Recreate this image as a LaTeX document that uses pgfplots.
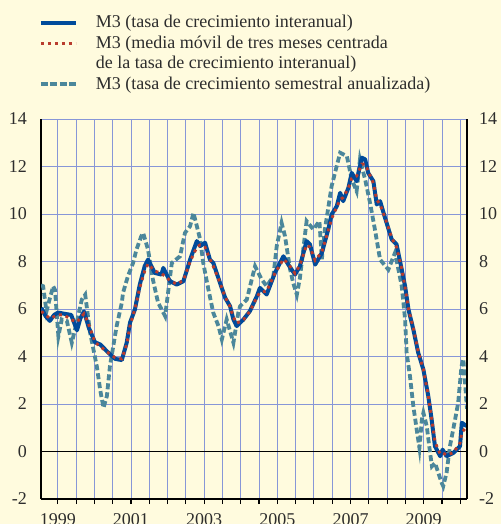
\documentclass[border=0pt]{standalone}
\usepackage{pgfplots}
\pgfplotsset{compat=1.18}
\usepackage{fontspec}
\setmainfont{Liberation Serif}
\definecolor{bg}{RGB}{255,251,222}
\definecolor{m3blue}{RGB}{0,75,155}
\definecolor{m3red}{RGB}{185,60,45}
\definecolor{m3teal}{RGB}{75,135,155}
\definecolor{gridc}{RGB}{135,150,215}
\definecolor{txt}{RGB}{45,45,45}
\tikzset{reddots/.style={m3red, line width=2.9bp, line cap=butt, dash pattern=on 2.9bp off 4.1bp}}
\begin{document}
\begin{tikzpicture}
\fill[bg] (-41bp,-25bp) rectangle (460bp,499bp);
\begin{axis}[
  at={(0,0)}, anchor=south west,
  scale only axis, width=426bp, height=380bp,
  xmin=0.5, xmax=140.2, ymin=-2, ymax=14,
  axis x line*=bottom, axis y line*=left,
  axis line style={black, line width=1.1bp},
  xtick={6,12,...,138},
  xticklabels={1999,,,,2001,,,,2003,,,,2005,,,,2007,,,,2009,,},
  ytick={-2,0,...,14},
  yticklabels={-2,0,2,4,6,8,10,12,14},
  grid=major, major grid style={gridc, line width=0.9bp},
  tick align=outside, major tick length=5bp,
  xtick style={black, line width=1.1bp},
  ytick style={draw=none},
  tick label style={font=\fontsize{18bp}{20bp}\selectfont, text=txt},
  yticklabel style={anchor=east, inner sep=0pt, xshift=-9bp},
  xticklabel style={anchor=north, inner sep=0pt, yshift=-9bp},
  extra y ticks={0}, extra y tick labels={},
  extra y tick style={major grid style={black, line width=1bp}, ytick style={draw=none}},
  legend image code/.code={\draw[#1] (0bp,1bp) -- (35bp,1bp);},
  legend cell align=left,
  legend style={at={(axis description cs:-0.0047,1.274)}, anchor=north west,
    draw=none, fill=none, inner sep=0pt, outer sep=0pt, row sep=2.5bp, column sep=0pt,
    font=\fontsize{18bp}{20bp}\selectfont, text=txt,
    nodes={inner sep=0pt, text height=13bp, text depth=5bp},
    /tikz/every odd column/.append style={column sep=18bp}},
]
\addplot[m3teal, line width=3.8bp, dash pattern=on 6bp off 3bp, forget plot] table {
0.5 7.0
1.2 6.96
2.3 5.9
3.1 6.3
4.5 6.96
5.1 6.8
6.2 4.85
7.3 5.56
9.0 5.49
10.6 4.58
12.2 5.43
13.9 6.4
15 6.6
16.6 5.0
18.8 3.59
19.9 2.6
21 1.84
22.1 2.33
23.1 3.59
24.2 4.43
25.3 5.28
27 6.26
27.4 6.68
29 7.38
30.7 7.94
31.8 8.5
33.4 9.07
34 9.2
35.6 8.5
37.2 7.24
38.9 6.26
39.5 6.12
41.2 5.7
43.4 7.94
46.1 8.22
47.7 9.2
49.4 9.49
50.5 10.05
51.6 9.49
52.7 8.93
53.7 7.94
55.4 6.82
57 5.84
58.7 5.28
59.8 4.72
61.4 5.56
63.6 4.58
65.2 5.84
65.8 6.12
68 6.4
69.6 7.24
70.7 7.8
72.9 7.24
74.5 6.96
76.7 7.38
77.8 8.65
79.4 9.63
80.5 9.07
82.2 7.66
83.2 7.1
84.4 6.6
85.4 7.3
87.6 9.7
89.8 9.35
91.8 9.7
92.6 8.1
93.6 9.35
95.8 11.17
96.9 11.73
98.6 12.58
100.8 12.44
102.4 11.45
104 10.96
105.1 12.3
106.8 11.45
108.4 10.47
110 9.35
111.7 8.08
114.4 7.66
116.6 8.37
118.8 6.96
119.9 5.56
120.4 4.16
121.5 3.17
122.6 1.91
123.7 0.93
124.6 0.15
125.4 1.35
125.9 1.63
127 1.07
128.1 -0.06
128.7 -0.62
129.7 -0.48
130.8 -0.9
131.9 -1.32
132.4 -1.46
133.5 -0.9
134.6 0.22
136.3 1.35
137.3 2.05
138.4 3.59
139 3.9
139.9 2.3
140.2 1.8
};
\addplot[m3blue, line width=4bp, line join=round, forget plot] table {
0.6 6.05
2 5.7
3.4 5.5
4.8 5.75
6.1 5.85
8.1 5.8
10.4 5.75
12.3 5.1
13.4 5.6
14.6 5.9
16.2 5.2
18.2 4.6
20 4.5
22.1 4.22
24.8 3.9
27 3.85
28.6 4.58
29.7 5.43
31.3 5.98
32.9 7.03
34.5 7.8
35.6 8.08
37.8 7.52
40 7.45
40.6 7.73
42.8 7.17
45 7.03
47.2 7.17
49.4 8.08
51.6 8.86
52.7 8.65
54.3 8.79
55.9 8.08
57 7.94
59.2 7.1
60.9 6.47
62.5 6.12
63.6 5.56
64.7 5.28
66.9 5.56
69 5.91
71.3 6.54
72.3 6.89
74.5 6.61
77.2 7.52
80 8.22
81.6 7.87
83.8 7.45
85.4 7.8
87.6 8.86
88.7 8.72
90.4 7.87
92.6 8.36
94.7 9.35
95.8 9.98
97.5 10.33
98.6 10.89
99.6 10.54
101.3 11.1
102.4 11.73
104 11.38
105.7 12.37
106.8 12.3
107.8 11.73
109.5 11.38
110.6 10.4
111.7 10.54
113.3 9.85
115.5 8.93
117.1 8.72
118.8 7.66
119.9 6.96
121 5.98
122.6 5.14
124.2 4.16
125.9 3.45
127.5 2.33
128.6 1.35
129.7 0.22
131.4 -0.2
132.2 0.08
133.5 -0.2
135.7 -0.06
137.9 0.22
138.5 1.21
140.1 1.07
};
\addplot[reddots, forget plot] table {
0.6 5.9
3.4 5.6
6.1 5.75
8.1 5.75
10.4 5.55
12.3 5.45
14.6 5.8
16 5.4
18.2 4.6
22.1 4.2
24.8 3.95
27 3.9
28.6 4.5
29.7 5.3
31.3 6.0
32.9 6.9
34.5 7.6
35.6 7.9
37.8 7.6
40 7.5
42.8 7.2
45 7.05
47.2 7.2
49.4 8.0
51.6 8.6
52.7 8.7
54.3 8.6
55.9 8.1
57 7.8
59.2 7.1
60.9 6.5
62.5 6.1
63.6 5.65
64.7 5.4
66.9 5.55
69 5.9
71.3 6.5
72.3 6.7
74.5 6.75
77.2 7.5
80 8.1
81.6 7.9
83.8 7.5
85.4 7.85
87.6 8.7
88.7 8.6
90.4 8.05
92.6 8.4
94.7 9.3
95.8 9.8
97.5 10.3
98.6 10.6
99.6 10.7
101.3 11.1
102.4 11.5
104 11.6
105.7 12.1
106.8 12.1
107.8 11.8
109.5 11.3
110.6 10.6
111.7 10.4
113.3 9.85
115.5 9.0
117.1 8.6
118.8 7.7
119.9 6.9
121 6.0
122.6 5.2
124.2 4.2
125.9 3.45
127.5 2.35
128.6 1.4
129.7 0.4
131.4 -0.1
132.2 -0.05
133.5 -0.15
135.7 -0.05
137.9 0.35
138.5 0.8
140.1 1.05
};
\addlegendimage{m3blue, line width=4bp}
\addlegendentry{M3 (tasa de crecimiento interanual)}
\addlegendimage{reddots}
\addlegendentry{M3 (media móvil de tres meses centrada}
\addlegendimage{empty legend}
\addlegendentry{de la tasa de crecimiento interanual)}
\addlegendimage{m3teal, line width=3.8bp, dash pattern=on 7bp off 2.5bp}
\addlegendentry{M3 (tasa de crecimiento semestral anualizada)}
\end{axis}
\begin{axis}[
  at={(0,0)}, anchor=south west,
  scale only axis, width=426bp, height=380bp,
  xmin=0.5, xmax=140.2, ymin=-2, ymax=14,
  axis x line=none, axis y line*=right,
  axis line style={black, line width=1.1bp},
  ytick={-2,0,...,14},
  yticklabels={-2,0,2,4,6,8,10,12,14},
  yticklabel pos=right,
  ytick style={draw=none},
  tick label style={font=\fontsize{18bp}{20bp}\selectfont, text=txt},
  yticklabel style={anchor=west, inner sep=0pt, xshift=12bp},
]
\end{axis}
\pgfresetboundingbox
\useasboundingbox (-41bp,-25bp) rectangle (460bp,499bp);
\end{tikzpicture}
\end{document}
